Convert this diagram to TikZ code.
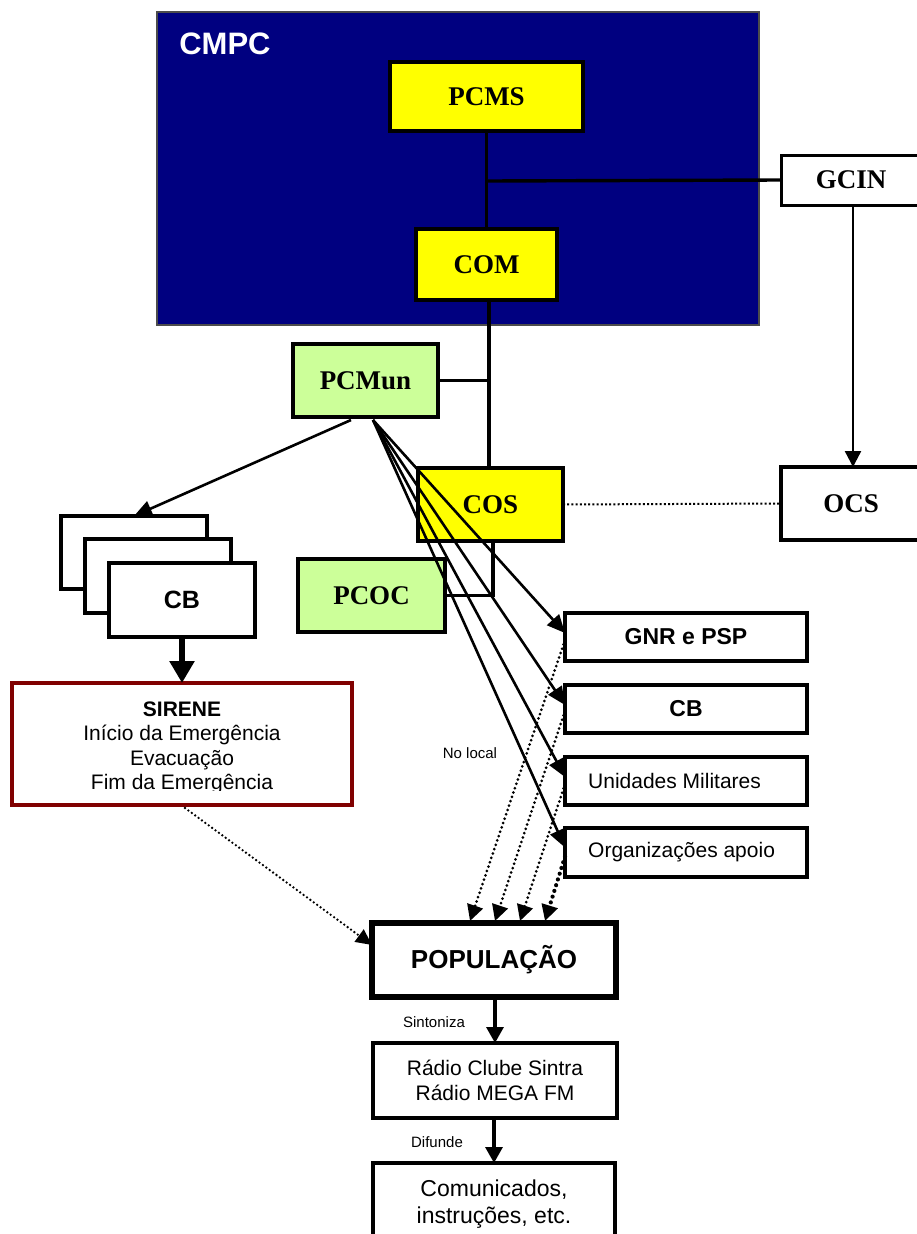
\documentclass[tikz,border=0pt]{standalone}
\usepackage{fontspec}
\setmainfont{Liberation Serif}
\setsansfont{Liberation Sans}
\usetikzlibrary{arrows.meta,calc}
\definecolor{navyblue}{HTML}{000080}
\definecolor{pyellow}{HTML}{FFFF00}
\definecolor{pgreen}{HTML}{CCFF99}
\definecolor{sired}{HTML}{800000}
\begin{document}
\begin{tikzpicture}[x=1pt,y=-1pt,
  box/.style={draw=black, line width=3.8pt, inner sep=0pt, outer sep=0pt, align=center},
  tserif/.style={font=\bfseries\fontsize{27}{31}\selectfont},
  ybox/.style={box, fill=pyellow, tserif},
  gbox/.style={box, fill=pgreen, tserif},
  wbox/.style={box, fill=white},
  sbold/.style={font=\sffamily\bfseries\fontsize{23}{27}\selectfont},
  sreg/.style={font=\sffamily\fontsize{21}{24.5}\selectfont},
  small/.style={font=\sffamily\fontsize{15}{18}\selectfont, inner sep=0pt},
  conn/.style={line width=3.4pt},
  fan/.style={line width=2.6pt, -{Triangle[length=18pt,width=16pt]}},
  dotarrow/.style={line width=3pt, line cap=round, dash pattern=on 0pt off 4.6pt, -{Triangle[length=16pt,width=16pt]}},
  dotarrowthick/.style={line width=4.2pt, line cap=round, dash pattern=on 0pt off 6pt, -{Triangle[length=16pt,width=16pt]}},
]
\useasboundingbox (0,0) rectangle (917,1234);
\clip (0,0) rectangle (917,1234);
\fill[white] (0,0) rectangle (917,1234);

% CMPC block
\node[draw=black!70, line width=1.4pt, fill=navyblue, minimum width=602pt, minimum height=313pt, inner sep=0pt] (cmpc) at (458,168.5) {};
\node[text=white, font=\sffamily\bfseries\fontsize{31}{36}\selectfont, inner sep=0pt] (cmpclabel) at (225,44) {CMPC};
\node[ybox, minimum width=193pt, minimum height=69pt] (pcms) at (486.5,96.5) {PCMS};
\node[ybox, minimum width=141pt, minimum height=71pt] (com) at (486.5,264.5) {COM};

% right column
\node[wbox, line width=3pt, tserif, minimum width=140pt, minimum height=50pt] (gcin) at (851,180) {GCIN};
\node[wbox, line width=3.2pt, tserif, minimum width=140pt, minimum height=73pt] (ocs) at (851,503.5) {OCS};

% middle
\node[gbox, minimum width=145pt, minimum height=73pt] (pcmun) at (365.5,380.5) {PCMun};
\node[ybox, minimum width=145pt, minimum height=73pt] (cos) at (490.5,504.5) {COS};
\node[gbox, minimum width=147pt, minimum height=73pt] (pcoc) at (371.5,595.5) {PCOC};

% connectors in the CMPC area
\coordinate (jgcin) at (487,181);
\draw[conn] (pcms.south) -- (com.north);
\draw[conn] (jgcin) -- (gcin.west);
\coordinate (comdown) at (489,300);
\coordinate (cosup) at (489,468);
\draw[conn] (comdown) -- (cosup);
\draw[conn] (pcmun.east) -- (pcmun.east -| cosup);
\coordinate (cosbot) at (493,541);
\draw[conn] (cosbot) |- (pcoc.east);
\draw[line width=2.4pt, -{Triangle[length=16pt,width=16pt]}] (853,205) -- (853,467);
\draw[line width=2pt, dash pattern=on 2pt off 2.2pt] (cos.east) -- (ocs.west);

% CB stack
\node[wbox, line width=3.4pt, minimum width=146pt, minimum height=73pt] (cbA) at (134,552.5) {};
\node[wbox, line width=3.4pt, minimum width=146pt, minimum height=74pt] (cbB) at (158,576) {};
\node[wbox, line width=3.4pt, font=\sffamily\bfseries\fontsize{25}{29}\selectfont, minimum width=146pt, minimum height=74pt] (cbC) at (182,600) {CB};

% SIRENE
\node[box, draw=sired, line width=4.8pt, fill=white, minimum width=340pt, minimum height=122pt] (sirene) at (182,744) {};
\begin{scope}
\clip (14,686) rectangle (350,790);
\node[sreg, align=center, inner sep=0pt] (sirenetext) at (182,748)
  {\textbf{SIRENE}\\Início da Emergência\\Evacuação\\Fim da Emergência};
\end{scope}
\draw[line width=6.5pt, -{Triangle[length=22pt,width=24pt]}] (cbC.south) -- (sirene.north);

% right boxes
\node[wbox, sbold, minimum width=242pt, minimum height=48pt] (gnr) at (686,637) {GNR e PSP};
\node[wbox, sbold, minimum width=242pt, minimum height=48pt] (cb2) at (686,709) {CB};
\node[wbox, minimum width=242pt, minimum height=48pt] (unid) at (686,781) {};
\node[sreg, anchor=west, inner sep=0pt] (unidtext) at (588,781) {Unidades Militares};
\node[wbox, minimum width=242pt, minimum height=49pt] (org) at (686,852.5) {};
\node[sreg, anchor=west, inner sep=0pt] (orgtext) at (588,852.5) {Organizações apoio};

% fan from PCMun
\coordinate (fanA) at (373,420);
\coordinate (fanB) at (351,420);
\draw[fan] (fanB) -- (cbA.north);
\draw[fan] (fanA) -- ([yshift=4pt]gnr.west);
\draw[fan] (fanA) -- ([yshift=4pt]cb2.west);
\draw[fan] (fanA) -- ([yshift=4pt]unid.west);
\draw[fan] (fanA) -- ([yshift=5pt]org.west);

\node[small] (nolocal) at (470,753) {No local};

% POPULACAO and below
\node[wbox, line width=6.5pt, font=\sffamily\bfseries\fontsize{26}{30}\selectfont, minimum width=244pt, minimum height=74pt] (pop) at (494,960) {POPULAÇÃO};
\draw[dotarrow] ([yshift=-3pt]gnr.west) -- ([xshift=-24pt,yshift=2pt]pop.north);
\draw[dotarrow] ([yshift=-2pt]cb2.west) -- ([xshift=1pt,yshift=2pt]pop.north);
\draw[dotarrow] ([yshift=-3pt]unid.west) -- ([xshift=26pt,yshift=2pt]pop.north);
\draw[dotarrowthick] ([yshift=-4pt]org.west) -- ([xshift=51pt,yshift=2pt]pop.north);
\coordinate (sirout) at (185,808);
\draw[line width=2.6pt, line cap=round, dash pattern=on 0pt off 4.2pt, -{Triangle[length=16pt,width=15pt]}] (sirout) -- ([yshift=15pt]pop.west);

\node[wbox, line width=4.2pt, sreg, minimum width=244pt, minimum height=75pt] (radio) at (495,1080.5) {Rádio Clube Sintra\\Rádio MEGA FM};
\draw[line width=3.2pt, -{Triangle[length=16pt,width=17pt]}] (pop.south -| radio.north) -- (radio.north);
\node[small] (sint) at (434,1022) {Sintoniza};

\node[wbox, line width=3.2pt, minimum width=242pt, minimum height=97pt] (comm) at (494,1211.5) {};
\node[align=center, font=\sffamily\fontsize{23}{27}\selectfont, inner sep=0pt] (commtext) at (494,1204) {Comunicados,\\instruções, etc.};
\draw[line width=3.2pt, -{Triangle[length=16pt,width=17pt]}] (radio.south -| comm.north) -- (comm.north);
\node[small] (dif) at (437,1142) {Difunde};
\end{tikzpicture}
\end{document}
